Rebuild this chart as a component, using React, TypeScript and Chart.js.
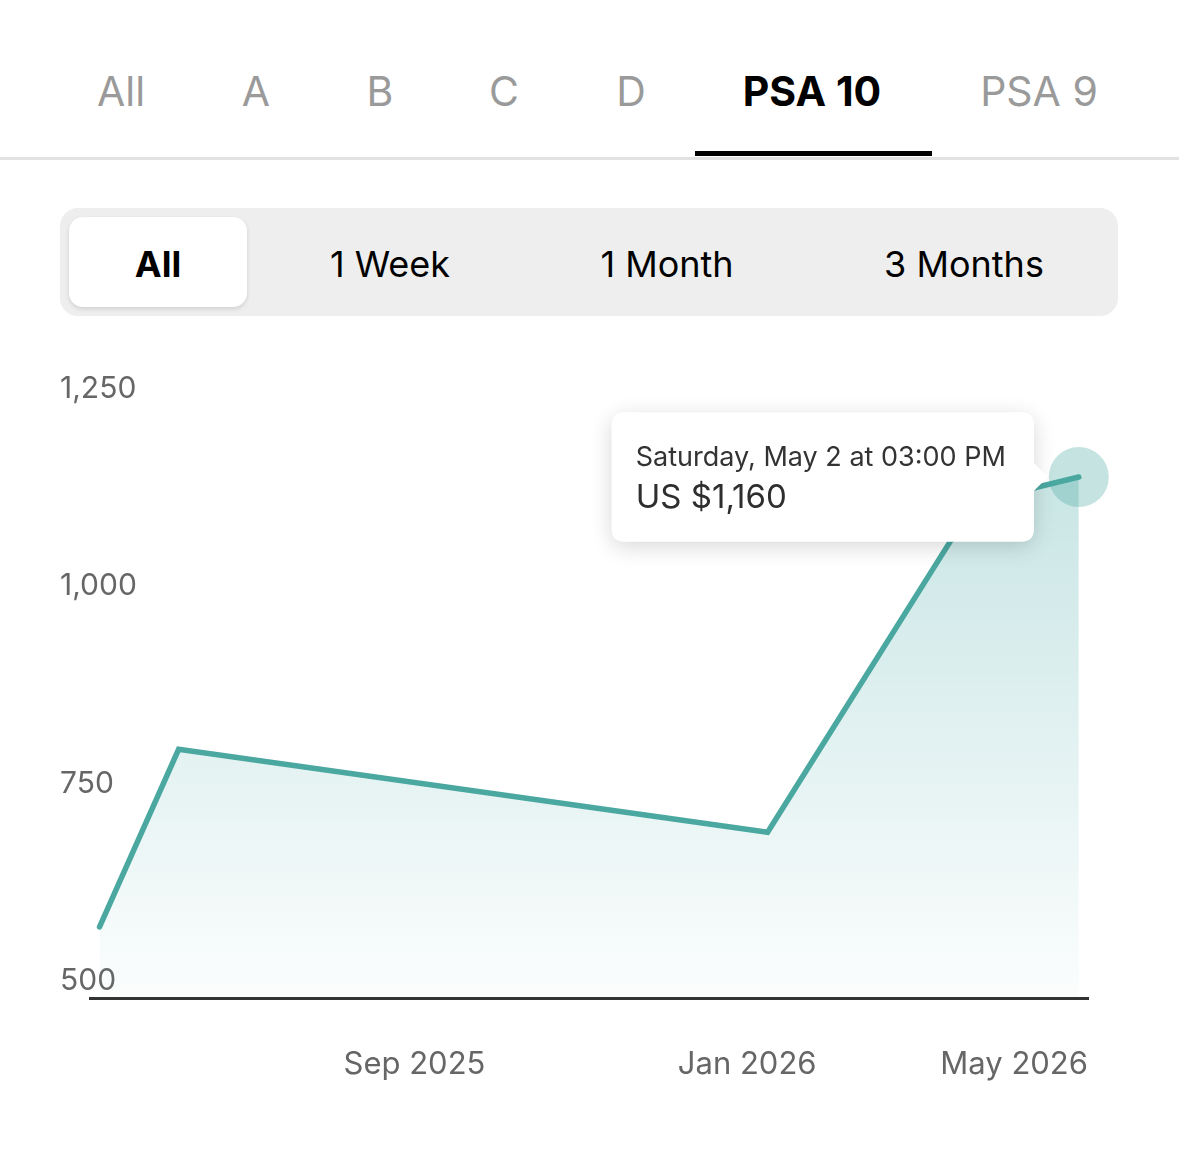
import React, { useEffect, useRef } from 'react';
import { Chart, registerables } from 'chart.js';

Chart.register(...registerables);

// ---- data ----
const GRADE_TABS = ['All', 'A', 'B', 'C', 'D', 'PSA 10', 'PSA 9'];
const ACTIVE_GRADE = 'PSA 10';
const RANGE_TABS = ['All', '1 Week', '1 Month', '3 Months'];
const ACTIVE_RANGE = 'All';

const SALE_DATES = ['2025-05-08T12:00', '2025-06-06T12:00', '2026-01-08T12:00', '2026-03-25T12:00', '2026-05-02T15:00'];
const SALE_PRICES = [590, 815, 710, 1128, 1160];

const X_TICK_DATES = ['2025-09-01T00:00', '2026-01-01T00:00', '2026-05-01T00:00'];
const X_TICK_LABELS = ['Sep 2025', 'Jan 2026', 'May 2026'];
const X_RANGE = ['2025-05-05T00:00', '2026-05-06T00:00'];
const Y_TICKS = [500, 750, 1000, 1250];

const WEEKDAYS = ['Sunday', 'Monday', 'Tuesday', 'Wednesday', 'Thursday', 'Friday', 'Saturday'];
const MONTHS = ['Jan', 'Feb', 'Mar', 'Apr', 'May', 'Jun', 'Jul', 'Aug', 'Sep', 'Oct', 'Nov', 'Dec'];

// ---- helpers ----
function parseDate(s: string): Date {
  const m = /^(\d+)-(\d+)-(\d+)T(\d+):(\d+)$/.exec(s)!;
  return new Date(Date.UTC(+m[1], +m[2] - 1, +m[3], +m[4], +m[5]));
}
function toDay(s: string): number {
  return parseDate(s).getTime() / 86400000;
}
function formatTitle(s: string): string {
  const d = parseDate(s);
  let h = d.getUTCHours();
  const ampm = h >= 12 ? 'PM' : 'AM';
  h = h % 12;
  if (h === 0) h = 12;
  const hh = String(h).padStart(2, '0');
  const mm = String(d.getUTCMinutes()).padStart(2, '0');
  return `${WEEKDAYS[d.getUTCDay()]}, ${MONTHS[d.getUTCMonth()]} ${d.getUTCDate()} at ${hh}:${mm} ${ampm}`;
}

const FONT = 'Inter, "Noto Sans", sans-serif';
const TEAL = '#4aa8a1';

// layout (styles only)
const GRADE_TAB_X = [121, 256, 380, 504, 631, 812, 1039];
const RANGE_TAB_X = [158, 390, 667, 964];

const xLabelPlugin = {
  id: 'xLabels',
  afterDatasetsDraw(chart: any) {
    const { ctx, chartArea, scales } = chart;
    const xs = scales.x;
    ctx.save();
    ctx.font = `400 31px ${FONT}`;
    ctx.fillStyle = '#666666';
    ctx.textAlign = 'center';
    ctx.textBaseline = 'middle';
    X_TICK_DATES.forEach((d, i) => {
      const label = X_TICK_LABELS[i];
      const w = ctx.measureText(label).width;
      let cx = xs.getPixelForValue(toDay(d));
      cx = Math.min(Math.max(cx, chartArea.left + w / 2), chartArea.right - w / 2);
      ctx.fillText(label, cx, chartArea.bottom + 67);
    });
    ctx.restore();
  },
};

const tooltipShadowPlugin = {
  id: 'tooltipShadow',
  beforeTooltipDraw(chart: any, args: any) {
    const t = args.tooltip;
    if (!t || !t.opacity) return;
    const { ctx } = chart;
    ctx.save();
    ctx.shadowColor = 'rgba(0,0,0,0.16)';
    ctx.shadowBlur = 22;
    ctx.shadowOffsetY = 5;
    ctx.fillStyle = '#ffffff';
    ctx.beginPath();
    (ctx as any).roundRect(t.x, t.y, t.width, t.height, 12);
    ctx.fill();
    ctx.restore();
  },
};

function PriceChart() {
  const ref = useRef<HTMLCanvasElement | null>(null);
  useEffect(() => {
    if (!ref.current) return;
    const chart = new Chart(ref.current, {
      type: 'line',
      data: {
        datasets: [
          {
            data: SALE_DATES.map((d, i) => ({ x: toDay(d), y: SALE_PRICES[i] })),
            borderColor: TEAL,
            borderWidth: 5.5,
            borderCapStyle: 'round',
            borderJoinStyle: 'miter',
            tension: 0,
            fill: 'start',
            clip: false as any,
            backgroundColor: (c: any) => {
              const { chart: ch } = c;
              const area = ch.chartArea;
              if (!area) return 'rgba(0,0,0,0)';
              const g = ch.ctx.createLinearGradient(0, area.top, 0, area.bottom);
              g.addColorStop(0, 'rgba(74,170,168,0.34)');
              g.addColorStop(1, 'rgba(74,170,168,0.02)');
              return g;
            },
            pointRadius: 0,
            pointHoverRadius: 30,
            pointHoverBorderWidth: 0,
            pointHoverBackgroundColor: 'rgba(74,168,161,0.32)',
            pointHitRadius: 0,
          },
        ],
      },
      options: {
        animation: false,
        responsive: false,
        devicePixelRatio: 1,
        events: [],
        layout: { padding: { left: 60, right: 91, top: 66, bottom: 122 } },
        plugins: {
          legend: { display: false },
          tooltip: {
            enabled: true,
            xAlign: 'right',
            yAlign: 'center',
            backgroundColor: '#ffffff',
            titleColor: '#333333',
            bodyColor: '#2e2e2e',
            titleFont: { family: FONT, size: 27, weight: '400' as any },
            bodyFont: { family: FONT, size: 33, weight: '400' as any },
            titleMarginBottom: 4,
            padding: { top: 29, bottom: 24, left: 24, right: 28 } as any,
            cornerRadius: 12,
            caretSize: 14,
            caretPadding: 31,
            displayColors: false,
            callbacks: {
              title: (items: any[]) => formatTitle(SALE_DATES[items[0].dataIndex]),
              label: (item: any) => `US $${SALE_PRICES[item.dataIndex].toLocaleString('en-US')}`,
            },
          },
        },
        scales: {
          x: {
            type: 'linear',
            min: toDay(X_RANGE[0]),
            max: toDay(X_RANGE[1]),
            grid: { display: false, drawTicks: false },
            border: { display: true, color: '#333333', width: 3 },
            ticks: { display: false },
          },
          y: {
            type: 'linear',
            min: Y_TICKS[0],
            max: Y_TICKS[Y_TICKS.length - 1],
            afterBuildTicks: (s: any) => {
              s.ticks = Y_TICKS.map((v) => ({ value: v }));
            },
            afterFit: (s: any) => {
              s.width = 30;
            },
            grid: { display: false, drawTicks: false },
            border: { display: false },
            ticks: {
              mirror: true,
              crossAlign: 'near',
              labelOffset: -17,
              padding: -30,
              color: '#666666',
              font: { family: FONT, size: 30, weight: '400' as any },
              callback: (v: any) => Number(v).toLocaleString('en-US'),
            },
          },
        },
      } as any,
      plugins: [xLabelPlugin, tooltipShadowPlugin],
    });
    const active = [{ datasetIndex: 0, index: SALE_PRICES.length - 1 }];
    chart.setActiveElements(active);
    chart.tooltip!.setActiveElements(active, { x: 0, y: 0 });
    chart.update();
    return () => chart.destroy();
  }, []);
  return (
    <canvas
      ref={ref}
      width={1179}
      height={780}
      style={{ position: 'absolute', left: 0, top: 340, width: 1179, height: 780 }}
    />
  );
}

export default function App() {
  return (
    <div
      style={{
        position: 'absolute',
        left: 0,
        top: 0,
        width: 1179,
        height: 1158,
        background: '#ffffff',
        fontFamily: FONT,
        overflow: 'hidden',
      }}
    >
      {GRADE_TABS.map((t, i) => (
        <div
          key={t}
          style={{
            position: 'absolute',
            left: GRADE_TAB_X[i],
            top: 67,
            transform: 'translateX(-50%)',
            fontSize: 41,
            lineHeight: '48px',
            whiteSpace: 'nowrap',
            fontWeight: t === ACTIVE_GRADE ? 700 : 400,
            color: t === ACTIVE_GRADE ? '#000000' : '#9a9a9a',
          }}
        >
          {t}
        </div>
      ))}
      <div style={{ position: 'absolute', left: 695, top: 151, width: 237, height: 5, background: '#000' }} />
      <div style={{ position: 'absolute', left: 0, top: 157, width: 1179, height: 3, background: '#e2e2e2' }} />

      <div
        style={{
          position: 'absolute',
          left: 60,
          top: 208,
          width: 1058,
          height: 108,
          borderRadius: 18,
          background: '#eeeeee',
        }}
      />
      <div
        style={{
          position: 'absolute',
          left: 69,
          top: 217,
          width: 178,
          height: 90,
          borderRadius: 14,
          background: '#ffffff',
          boxShadow: '0 2px 4px rgba(0,0,0,0.13)',
        }}
      />
      {RANGE_TABS.map((t, i) => (
        <div
          key={t}
          style={{
            position: 'absolute',
            left: RANGE_TAB_X[i],
            top: 244,
            transform: 'translateX(-50%)',
            fontSize: 36,
            lineHeight: '40px',
            whiteSpace: 'nowrap',
            fontWeight: t === ACTIVE_RANGE ? 700 : 400,
            color: '#000000',
          }}
        >
          {t}
        </div>
      ))}
      <PriceChart />
    </div>
  );
}
